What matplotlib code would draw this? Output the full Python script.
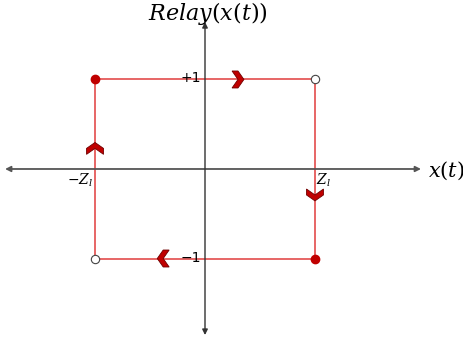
import matplotlib.pyplot as plt
import numpy as np

# relay characteristic: switching thresholds and output levels
z_l = 1.0
corner_x = [-z_l, z_l, z_l, -z_l, -z_l]
corner_y = [1, 1, -1, -1, 1]
filled_x = [-z_l, z_l]
filled_y = [1, -1]
open_x = [z_l, -z_l]
open_y = [1, -1]
# direction chevrons: position and direction angle in degrees
chev_x = [0.3, -z_l, z_l, -0.38]
chev_y = [1, 0.23, -0.29, -1]
chev_ang = [0, 90, -90, 180]

RED = '#e03c3c'
DARK = '#c00000'

fig = plt.figure(figsize=(4.64, 3.43), dpi=100)
ax = fig.add_axes([0, 0, 1, 1])
ax.set_xlim(-1.864, 2.355)
ax.set_ylim(-1.944, 1.888)
ax.axis('off')

plt.rcParams['mathtext.fontset'] = 'dejavuserif'

# axes with arrows
ax.annotate('', xy=(1.964, 0), xytext=(-1.818, 0),
            arrowprops=dict(arrowstyle='<|-|>', color='#555555', lw=1.3,
                            mutation_scale=8, shrinkA=0, shrinkB=0))
ax.annotate('', xy=(0, 1.642), xytext=(0, -1.855),
            arrowprops=dict(arrowstyle='<|-|>', color='#333333', lw=1.0,
                            mutation_scale=8, shrinkA=0, shrinkB=0))

# hysteresis loop
ax.plot(corner_x, corner_y, color=RED, lw=1.1, zorder=2)
ax.plot(filled_x, filled_y, 'o', color=DARK, ms=6, zorder=3)
ax.plot(open_x, open_y, 'o', mfc='white', mec='#444444', mew=0.8, ms=6, zorder=3)

# chevron pointing right, in pixel units
base = np.array([(-0.7, 1), (0.0, 1), (0.7, 0), (0.0, -1), (-0.7, -1), (0.0, 0)])
for cx, cy, ang in zip(chev_x, chev_y, chev_ang):
    t = np.deg2rad(ang)
    rot = np.array([[np.cos(t), -np.sin(t)], [np.sin(t), np.cos(t)]])
    pts = base @ rot.T
    px = pts[:, 0] * 8.5 / 110 + cx
    py = pts[:, 1] * 8.5 / 89.5 + cy
    ax.fill(px, py, color=DARK, ec='#700000', lw=0.6, zorder=4)

# labels
ax.text(0.03, 1.89, r'$Relay(x(t))$', fontsize=16, ha='center', va='top')
ax.text(2.03, -0.02, r'$x(t)$', fontsize=15, ha='left', va='center')
ax.text(-0.04, 1.02, '+1', fontsize=10, ha='right', va='center')
ax.text(-0.04, -0.99, '\u22121', fontsize=10, ha='right', va='center')
ax.text(-1.02, -0.13, r'$-Z_l$', fontsize=10, ha='right', va='center')
ax.text(1.01, -0.13, r'$Z_l$', fontsize=10, ha='left', va='center')

fig.savefig('out.png', dpi=100)
